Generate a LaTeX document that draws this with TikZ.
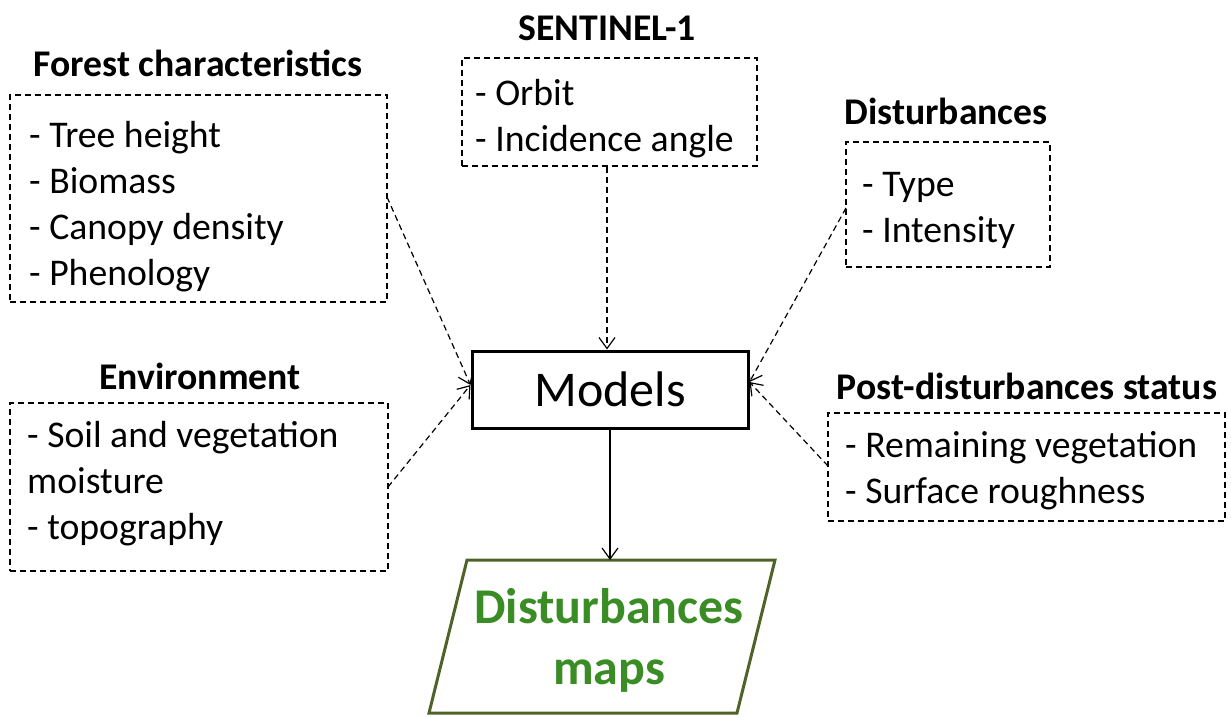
\documentclass[tikz,border=0pt]{standalone}
\usepackage{fontspec}
\setmainfont{Carlito}
\usetikzlibrary{arrows.meta,shapes.geometric}
\definecolor{olivebd}{HTML}{4F6228}
\definecolor{mapgreen}{HTML}{3A8C24}
\tikzset{
  dbox/.style={draw, dashed, dash pattern=on 6pt off 4pt, line width=1.2pt, inner sep=0pt},
  itemtxt/.style={align=left, inner sep=0pt, font=\fontsize{37.7}{46}\selectfont},
  ttl/.style={inner sep=0pt, font=\fontsize{37.7}{46}\selectfont\bfseries},
  dconn/.style={dashed, dash pattern=on 6pt off 4pt, line width=1.2pt, -{Straight Barb[length=11pt,width=16pt,line width=1.2pt]}},
  sconn/.style={line width=1.2pt, -{Straight Barb[length=11pt,width=16pt,line width=1.2pt]}},
}
\begin{document}
\begin{tikzpicture}[x=1pt,y=-1pt]
\useasboundingbox (0,0) rectangle (1231,717);
% Forest characteristics
\node[ttl] (forestT) at (198,63) {Forest characteristics};
\node[dbox, minimum width=377pt, minimum height=207pt] (forest) at (198.5,198.5) {};
\node[itemtxt, anchor=west] (forestL) at (29,206.5) {- Tree height\\- Biomass\\- Canopy density\\- Phenology};
% Sentinel-1
\node[ttl] (sentT) at (607,28) {SENTINEL-1};
\node[dbox, minimum width=295pt, minimum height=108pt] (sent) at (609.5,112) {};
\node[itemtxt, anchor=west] (sentL) at (475,119) {- Orbit\\- Incidence angle};
% Disturbances
\node[ttl] (distT) at (946,111) {Disturbances};
\node[dbox, minimum width=204pt, minimum height=125pt] (dist) at (948,204.5) {};
\node[itemtxt, anchor=west] (distL) at (862,210) {- Type\\- Intensity};
% Environment
\node[ttl] (envT) at (200,376) {Environment};
\node[dbox, minimum width=378pt, minimum height=168pt] (env) at (199,487) {};
\node[itemtxt, anchor=west] (envL) at (27,484) {- Soil and vegetation\\moisture\\- topography};
% Post-disturbances status
\node[ttl] (postT) at (1027,386) {Post-disturbances status};
\node[dbox, minimum width=397pt, minimum height=108pt] (post) at (1026.5,467) {};
\node[itemtxt, anchor=west] (postL) at (845,471) {- Remaining vegetation\\- Surface roughness};
% Models
\node[draw, line width=3pt, minimum width=276pt, minimum height=77pt, inner sep=0pt,
      font=\fontsize{50}{61}\selectfont] (models) at (610,389.5) {Models};
% Disturbances maps (parallelogram)
\coordinate (mapTL) at (467,560);
\coordinate (mapTR) at (775,560);
\coordinate (mapBR) at (737,713);
\coordinate (mapBL) at (429,713);
\draw[olivebd, line width=3pt, line join=miter] (mapTL) -- (mapTR) -- (mapBR) -- (mapBL) -- cycle;
\node[align=center, text=mapgreen, inner sep=0pt, font=\fontsize{50}{61}\selectfont\bfseries] (maps) at (609,640) {Disturbances\\maps};
\coordinate (mapTop) at (610,560);
% connectors
\coordinate (forestOut) at (387,197);
\coordinate (envOut) at (388,487);
\coordinate (distOut) at (846,208);
\coordinate (postOut) at (828,466);
\draw[dconn] (forestOut) -- (models.west |- 0,385);
\draw[dconn] (envOut) -- (models.west |- 0,385);
\draw[dconn] (sent.south -| 607,0) -- (models.north -| 607,0);
\draw[dconn] (distOut) -- (models.east |- 0,382);
\draw[dconn] (postOut) -- (models.east |- 0,382);
\draw[sconn] (models.south) -- (mapTop);
\end{tikzpicture}
\end{document}
